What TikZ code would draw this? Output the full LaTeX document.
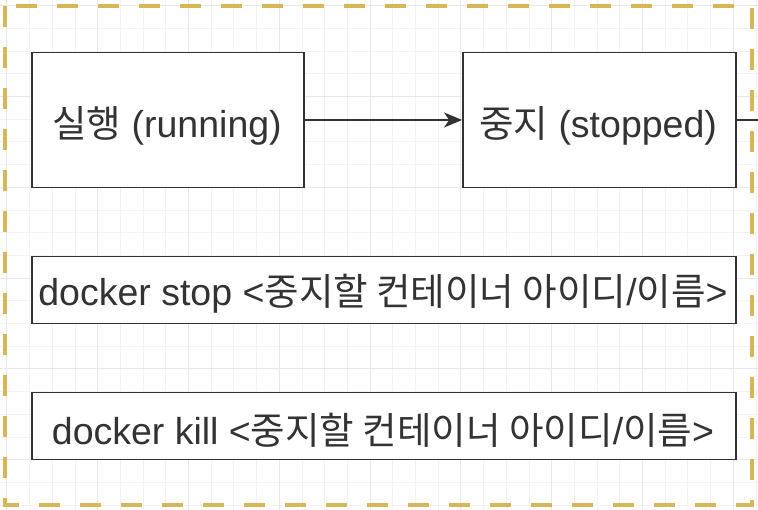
\documentclass[tikz,border=0pt]{standalone}
\usepackage{fontspec}
\setmainfont{Liberation Sans}
\newfontfamily\kr{Noto Sans CJK KR}
\usetikzlibrary{arrows.meta}
\definecolor{gridminor}{HTML}{F3F3F3}
\definecolor{gridmajor}{HTML}{E8E8E8}
\definecolor{border}{HTML}{D6B656}
\definecolor{ink}{HTML}{333333}
\tikzset{
  statebox/.style={draw=ink, line width=1.8pt, fill=white, inner sep=0pt},
  label text/.style={text=ink, font=\fontsize{37.5}{42}\selectfont, inner sep=0pt},
  flow/.style={draw=ink, line width=1.5pt, -{Stealth[length=18pt,width=15pt,inset=5pt]}},
  plainline/.style={draw=ink, line width=1.5pt},
  outline/.style={draw=border, line width=4.5pt, dash pattern=on 21pt off 20pt}
}
\begin{document}
\begin{tikzpicture}[x=1pt,y=-1pt]
\useasboundingbox (0,0) rectangle (758,510);
\fill[white] (0,0) rectangle (758,510);
% grid
\foreach \i in {0,...,33} {
  \pgfmathsetmacro\gx{6.8+\i*22.7}
  \draw[gridminor, line width=0.8pt] (\gx,0) -- (\gx,510);
}
\foreach \j in {0,...,22} {
  \pgfmathsetmacro\gy{5.7+\j*22.7}
  \draw[gridminor, line width=0.8pt] (0,\gy) -- (758,\gy);
}
\foreach \i in {0,4,...,32} {
  \pgfmathsetmacro\gx{6.8+\i*22.7}
  \draw[gridmajor, line width=0.9pt] (\gx,0) -- (\gx,510);
}
\foreach \j in {0,4,...,20} {
  \pgfmathsetmacro\gy{5.7+\j*22.7}
  \draw[gridmajor, line width=0.9pt] (0,\gy) -- (758,\gy);
}
% dashed outline
\draw[outline] (5,6) rectangle (752,505);
% boxes
\node[statebox, minimum width=272pt, minimum height=135pt] (run) at (168,120) {};
\node[label text] (runtxt) at (167,126) {{\kr 실행} (running)};
\node[statebox, minimum width=273pt, minimum height=135pt] (stop) at (599.5,120) {};
\node[label text] (stoptxt) at (598,126) {{\kr 중지} (stopped)};
\node[statebox, minimum width=704pt, minimum height=67pt] (cmdstop) at (384,290) {};
\node[label text] (cmdstoptxt) at (383,294) {docker stop <{\kr 중지할 컨테이너 아이디}/{\kr 이름}>};
\node[statebox, minimum width=704pt, minimum height=67pt] (cmdkill) at (384,426) {};
\node[label text] (cmdkilltxt) at (383,430) {docker kill <{\kr 중지할 컨테이너 아이디}/{\kr 이름}>};
\coordinate (out) at (758,120);
% connectors
\draw[flow] (run.east) -- (stop.west);
\draw[plainline] (stop.east) -- (out);
\end{tikzpicture}
\end{document}
